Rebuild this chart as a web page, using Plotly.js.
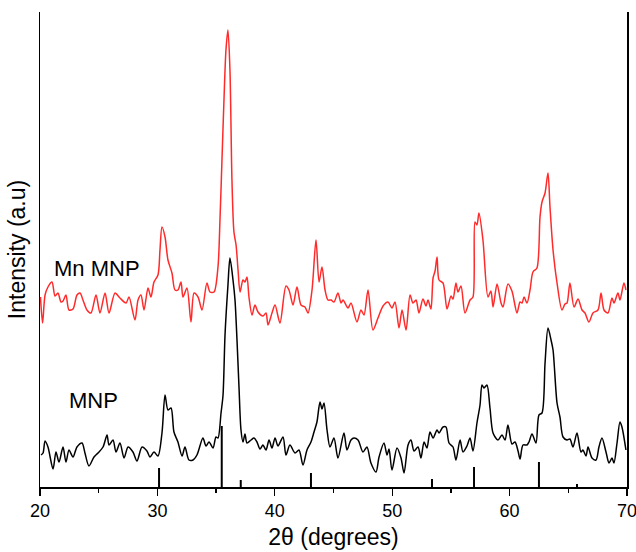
<!DOCTYPE html>
<html>
<head>
<meta charset="utf-8">
<script src="https://cdn.plot.ly/plotly-3.0.1.min.js"></script>
<style>html,body{margin:0;padding:0;background:#fff;}#chart{width:636px;height:552px;}</style>
</head>
<body>
<div id="chart"></div>
<script>
// 2theta (degrees) and intensity (a.u.) for Mn-doped magnetite nanoparticles
const mnTheta = [20.04,20.22,20.43,20.68,21.02,21.28,21.53,21.79,21.96,22.21,22.47,22.81,23.15,23.41,23.66,24.00,24.34,24.77,25.11,25.54,25.88,26.39,26.81,27.33,27.58,28.09,28.35,28.60,28.86,29.20,29.45,29.71,30.05,30.22,30.39,30.65,30.90,31.24,31.50,31.75,32.01,32.18,32.52,32.86,33.12,33.46,33.80,34.22,34.48,34.82,35.16,35.33,35.50,35.67,35.84,36.01,36.18,36.35,36.52,36.70,36.87,37.04,37.29,37.46,37.63,37.80,38.06,38.31,38.57,38.99,39.25,39.42,39.76,40.02,40.44,40.95,41.21,41.55,41.89,42.23,42.57,42.83,43.17,43.51,43.77,44.02,44.28,44.53,44.79,45.04,45.38,45.64,45.81,46.24,46.49,47.00,47.34,47.60,47.94,48.36,48.79,49.22,49.64,49.98,50.24,50.58,50.84,51.18,51.52,51.77,52.03,52.28,52.62,52.88,53.05,53.30,53.48,53.65,53.82,53.99,54.33,54.67,55.01,55.18,55.43,55.60,55.86,56.20,56.63,56.88,57.05,57.22,57.39,57.73,58.16,58.41,58.59,58.93,59.27,59.44,59.86,60.20,60.63,60.89,61.06,61.23,61.48,61.74,61.99,62.33,62.59,62.76,63.02,63.27,63.44,63.70,64.04,64.46,64.72,64.89,65.14,65.49,65.83,66.17,66.42,66.76,67.10,67.53,67.79,68.04,68.38,68.72,68.89,69.23,69.40,69.74,69.91];
const mnInt = [190,164,192,200,205,191,194,185,186,192,177,178,192,194,187,177,174,192,174,194,174,194,189,184,190,167,187,192,177,199,190,205,212,237,260,250,227,214,197,197,205,190,199,165,194,190,177,204,195,195,220,267,327,387,437,457,417,307,255,242,217,195,207,205,210,190,172,182,175,171,174,162,174,182,164,201,197,182,200,182,180,174,197,247,205,220,197,187,187,185,194,184,187,179,184,165,177,172,197,157,169,181,185,179,185,159,177,157,192,184,187,174,188,181,187,178,209,216,230,207,204,178,191,188,204,195,201,174,187,190,265,262,274,247,190,196,180,203,184,180,203,196,174,185,184,190,184,197,215,219,270,285,294,314,280,237,204,177,183,184,204,180,188,177,174,165,174,177,194,177,174,189,184,194,187,204,197];

// 2theta (degrees) and intensity (a.u.) for magnetite nanoparticles
const mnpTheta = [20.09,20.26,20.43,20.68,21.11,21.36,21.62,21.96,22.21,22.47,22.81,23.15,23.58,23.83,24.17,24.60,24.94,25.37,25.71,25.88,26.22,26.47,26.81,27.16,27.50,27.92,28.26,28.69,29.11,29.37,29.71,30.05,30.39,30.65,30.90,31.16,31.41,31.75,32.10,32.35,32.69,33.03,33.37,33.88,34.14,34.40,34.74,34.99,35.16,35.42,35.59,35.76,36.01,36.18,36.44,36.61,36.78,36.95,37.12,37.29,37.46,37.63,37.97,38.23,38.48,38.74,38.99,39.25,39.51,39.76,40.02,40.27,40.70,40.95,41.29,41.72,42.06,42.40,42.74,43.08,43.34,43.59,43.85,44.02,44.19,44.45,44.70,45.04,45.38,45.89,46.15,46.49,46.75,47.09,47.51,47.85,48.19,48.62,48.88,49.30,49.56,49.73,49.98,50.41,50.75,51.01,51.35,51.60,51.86,52.20,52.45,52.71,52.96,53.22,53.48,53.82,53.99,54.33,54.58,54.84,55.18,55.43,55.78,56.03,56.37,56.63,56.88,57.22,57.48,57.65,57.82,58.07,58.33,58.59,59.01,59.35,59.61,59.86,60.20,60.46,60.72,60.89,61.14,61.48,61.65,61.91,62.25,62.50,62.76,63.02,63.27,63.53,63.70,64.04,64.29,64.55,64.89,65.14,65.40,65.74,66.08,66.25,66.51,66.68,67.02,67.36,67.61,67.87,68.21,68.47,68.72,68.89,69.15,69.40,69.57,69.91];
const mnpInt = [32,34,46,40,18,35,25,40,25,37,30,40,44,34,21,30,34,40,52,42,47,35,44,29,40,35,26,40,36,30,35,31,54,92,77,79,55,45,31,40,27,27,32,49,41,45,39,50,49,74,92,152,202,229,207,187,147,100,57,45,53,44,47,49,45,38,42,37,47,39,49,41,50,32,42,34,37,22,37,45,55,65,85,78,84,57,40,49,29,54,37,47,49,47,35,40,24,15,30,44,32,38,17,39,29,14,42,47,36,40,29,45,39,55,49,57,54,60,60,44,40,27,47,35,41,49,36,64,82,102,99,102,79,54,47,52,47,62,43,45,36,28,42,42,45,53,44,72,74,124,159,147,137,84,70,50,47,48,40,54,35,37,31,40,29,27,40,49,35,24,29,24,44,65,60,37];

// Reference stick pattern (standard magnetite)
const refTheta = [30.14,35.48,37.10,43.08,53.39,56.97,62.50,65.74];
const refInt = [19,61,7,14,8,20,25,3];

const seriesNames = ["Mn MNP","MNP"];

const stickX = [], stickY = [];
refTheta.forEach((t,i)=>{ stickX.push(t,t,null); stickY.push(0,refInt[i],null); });

const font = "Liberation Sans, Arial, sans-serif";

const traces = [
  {x: mnTheta, y: mnInt, mode: "lines", line: {color: "#ff2a2a", width: 1.5, shape: "spline", smoothing: 0.8}, name: seriesNames[0], hoverinfo: "skip"},
  {x: mnpTheta, y: mnpInt, mode: "lines", line: {color: "#000000", width: 1.5, shape: "spline", smoothing: 0.8}, name: seriesNames[1], hoverinfo: "skip"},
  {x: stickX, y: stickY, mode: "lines", line: {color: "#000000", width: 2}, hoverinfo: "skip"}
];

const layout = {
  width: 636, height: 552,
  margin: {l: 40, r: 9, t: 12, b: 65},
  paper_bgcolor: "#fff", plot_bgcolor: "#fff",
  showlegend: false,
  font: {family: font, color: "#000"},
  xaxis: {
    range: [20, 70], dtick: 10, tick0: 20,
    ticks: "outside", ticklen: 7, tickwidth: 1.3, tickcolor: "#000",
    minor: {dtick: 5, ticks: "outside", ticklen: 4, tickwidth: 1.3, tickcolor: "#000"},
    showline: true, linecolor: "#000", linewidth: 1.5, mirror: false,
    showgrid: false, zeroline: false,
    ticklabeloverflow: "allow",
    tickfont: {size: 18, family: font},
    title: {text: "2θ (degrees)", font: {size: 23, family: font}, standoff: 9}
  },
  yaxis: {
    range: [0, 475],
    showticklabels: false, ticks: "",
    showline: true, linecolor: "#000", linewidth: 1.5, mirror: true,
    showgrid: false, zeroline: false,
    title: {text: "Intensity (a.u)", font: {size: 23, family: font}, standoff: 6}
  },
  annotations: [
    {x: 21.0, y: 219, xref: "x", yref: "y", text: seriesNames[0], showarrow: false, xanchor: "left", yanchor: "middle", font: {size: 22, family: font, color: "#000"}},
    {x: 22.3, y: 87, xref: "x", yref: "y", text: seriesNames[1], showarrow: false, xanchor: "left", yanchor: "middle", font: {size: 22, family: font, color: "#000"}}
  ]
};

Plotly.newPlot("chart", traces, layout, {displayModeBar: false, staticPlot: true});
</script>
</body>
</html>
